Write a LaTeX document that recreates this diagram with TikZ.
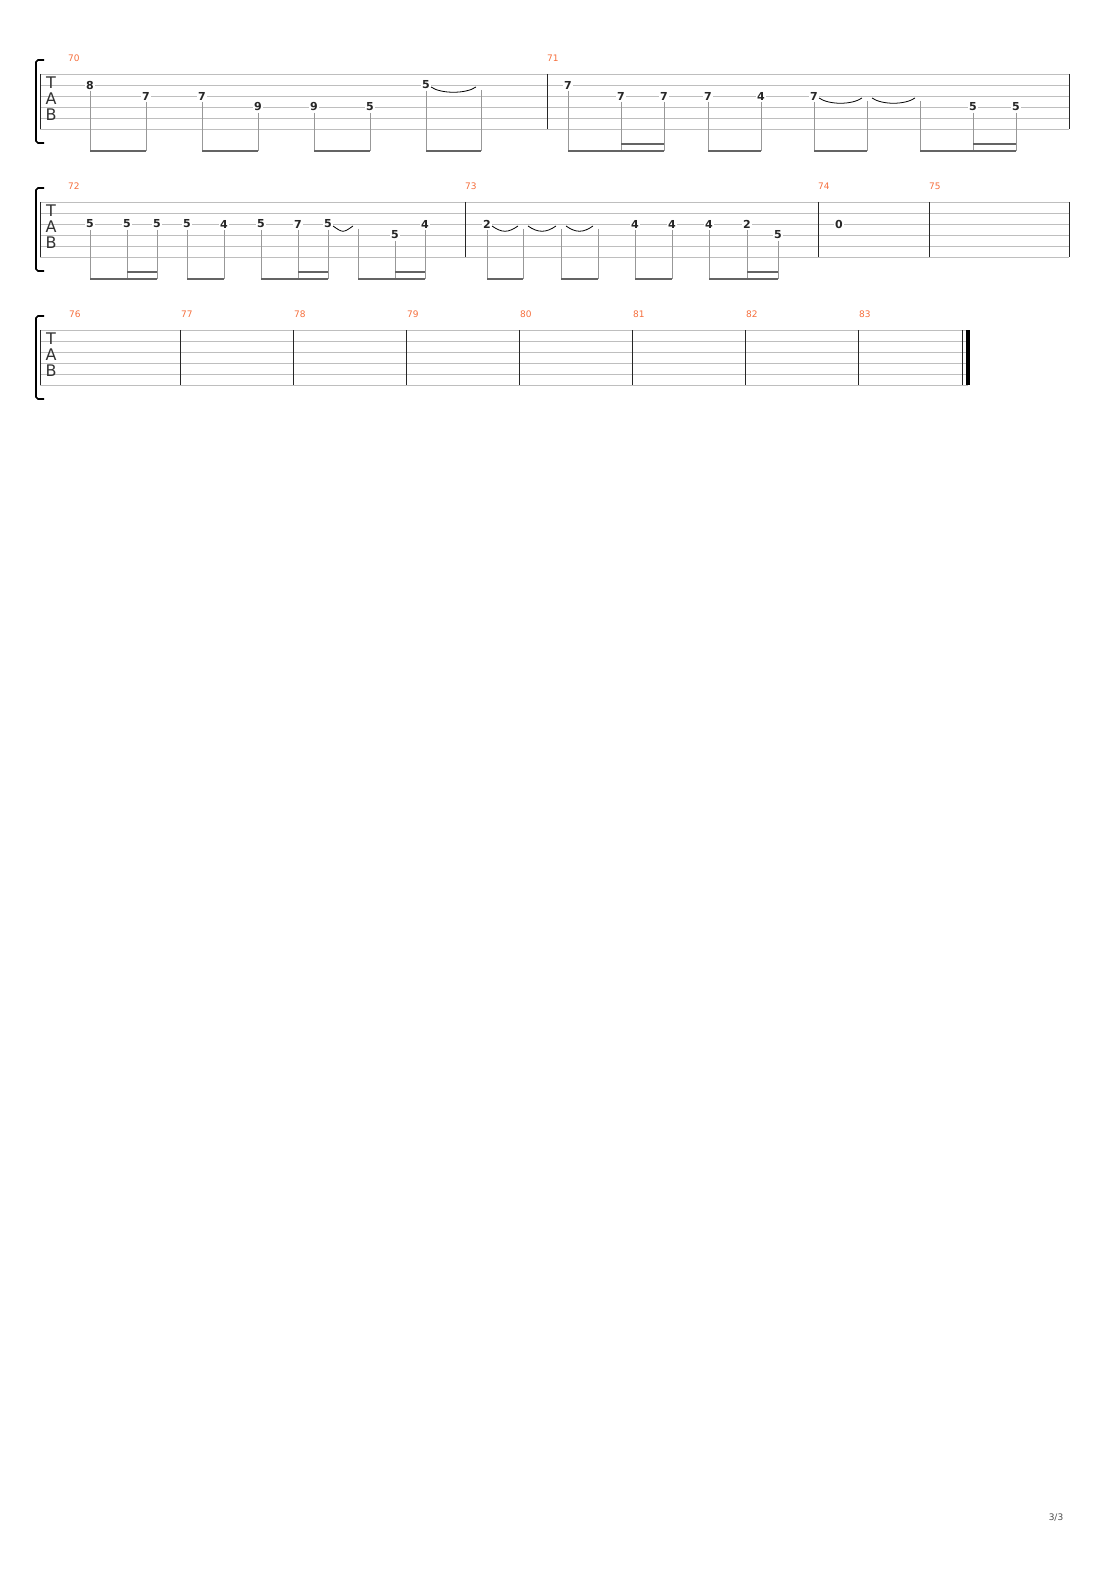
\documentclass[tikz,border=0pt]{standalone}
\usepackage{fontspec}
\setmainfont{DejaVu Sans}
\definecolor{barnum}{RGB}{245,110,60}
\definecolor{staffgray}{RGB}{190,190,190}
\definecolor{beamgray}{RGB}{100,100,100}
\newcommand\tabstaff[3]{% top, x from, x to
  \foreach \k in {0,...,5} \draw[staffline] (#2,#1+11*\k) -- (#3,#1+11*\k);
  \draw[bracketline] (44,#1-14) -- (38,#1-14) -- (36,#1-12) -- (36,#1+67) -- (38,#1+69) -- (44,#1+69);
  \node[tablabel] at (51,#1+9) {T};
  \node[tablabel] at (51,#1+25) {A};
  \node[tablabel] at (51,#1+41) {B};}
\newcommand\fret[4]{% x, top, string, label
  \node[fretnum] at (#1,#2+11*#3-11) {#4};
  \draw[stem] (#1,#2+11*#3-5) -- (#1,#2+77);}
\newcommand\tied[3]{% x, top, string
  \draw[stem] (#1,#2+11*#3-6) -- (#1,#2+77);}
\newcommand\slur[4]{% x1, x2, top, string
  \draw[tieline] (#1+5,#3+11*#4-9) .. controls (#1+15,#3+11*#4-2) and (#2-15,#3+11*#4-2) .. (#2-5,#3+11*#4-9);}
\newcommand\beam[3]{\draw[beamline] (#1,#3+77) -- (#2,#3+77);}
\begin{document}
\begin{tikzpicture}
[
	x=1pt,y=-1pt,
	staffline/.style={staffgray,line width=0.8},
	barline/.style={black!85,line width=0.9},
	bracketline/.style={black,line width=1.6},
	tablabel/.style={font=\fontsize{16}{16}\selectfont,inner sep=0,text=black!80},
	fretnum/.style={font=\fontsize{11}{11}\selectfont\bfseries,fill=white,inner sep=1,text=black!85},
	mnum/.style={font=\fontsize{9}{9}\selectfont,text=barnum,anchor=west,inner sep=0},
	stem/.style={staffgray!80!black,line width=0.8},
	beamline/.style={beamgray,line width=2.6},
	tieline/.style={black,line width=0.8}
]
\useasboundingbox (0,0) rectangle (1110,1570);

% system 1
\tabstaff{74}{40}{1069}
\draw[barline] (40,74) -- (40,129);
\draw[barline] (547,74) -- (547,129);
\draw[barline] (1069,74) -- (1069,129);
\node[mnum] (m70) at (68,58) {70};
\node[mnum] (m71) at (547,58) {71};
\fret{90}{74}{2}{8} \fret{146}{74}{3}{7} \beam{90}{146}{74}
\fret{202}{74}{3}{7} \fret{258}{74}{4}{9} \beam{202}{258}{74}
\fret{314}{74}{4}{9} \fret{370}{74}{4}{5} \beam{314}{370}{74}
\fret{426}{74}{2}{5} \tied{481}{74}{2} \beam{426}{481}{74}
\slur{426}{481}{74}{2}
\fret{568}{74}{2}{7} \fret{621}{74}{3}{7} \fret{664}{74}{3}{7}
\beam{568}{664}{74} \draw[beamline] (621,144) -- (664,144);
\fret{708}{74}{3}{7} \fret{761}{74}{3}{4} \beam{708}{761}{74}
\fret{814}{74}{3}{7} \tied{867}{74}{3} \beam{814}{867}{74}
\slur{814}{867}{74}{3} \slur{867}{920}{74}{3}
\tied{920}{74}{3} \fret{973}{74}{4}{5} \fret{1016}{74}{4}{5}
\beam{920}{1016}{74} \draw[beamline] (973,144) -- (1016,144);

% system 2
\tabstaff{202}{40}{1069}
\foreach \bx in {40,465,818,929,1069} \draw[barline] (\bx,202) -- (\bx,257);
\node[mnum] (m72) at (68,186) {72};
\node[mnum] (m73) at (465,186) {73};
\node[mnum] (m74) at (818,186) {74};
\node[mnum] (m75) at (929,186) {75};
\fret{90}{202}{3}{5} \fret{127}{202}{3}{5} \fret{157}{202}{3}{5}
\beam{90}{157}{202} \draw[beamline] (127,272) -- (157,272);
\fret{187}{202}{3}{5} \fret{224}{202}{3}{4} \beam{187}{224}{202}
\fret{261}{202}{3}{5} \fret{298}{202}{3}{7} \fret{328}{202}{3}{5}
\beam{261}{328}{202} \draw[beamline] (298,272) -- (328,272);
\slur{328}{358}{202}{3}
\tied{358}{202}{3} \fret{395}{202}{4}{5} \fret{425}{202}{3}{4}
\beam{358}{425}{202} \draw[beamline] (395,272) -- (425,272);
\fret{487}{202}{3}{2} \tied{523}{202}{3} \beam{487}{523}{202}
\slur{487}{523}{202}{3} \slur{523}{561}{202}{3} \slur{561}{598}{202}{3}
\tied{561}{202}{3} \tied{598}{202}{3} \beam{561}{598}{202}
\fret{635}{202}{3}{4} \fret{672}{202}{3}{4} \beam{635}{672}{202}
\fret{709}{202}{3}{4} \fret{747}{202}{3}{2} \fret{778}{202}{4}{5}
\beam{709}{778}{202} \draw[beamline] (747,272) -- (778,272);
\node[fretnum] (open) at (839,224) {0};

% system 3
\tabstaff{330}{40}{968}
\foreach \bx in {40,180,293,406,519,632,745,858,962} \draw[barline] (\bx,330) -- (\bx,385);
\draw[black,line width=3.5] (968,330) -- (968,385);
\foreach \bx/\n in {68/76,180/77,293/78,406/79,519/80,632/81,745/82,858/83}
  \node[mnum] at (\bx+1,314) {\n};

\node[font=\fontsize{9}{9}\selectfont,text=black!70] (page) at (1056,1518) {3/3};
\end{tikzpicture}
\end{document}
